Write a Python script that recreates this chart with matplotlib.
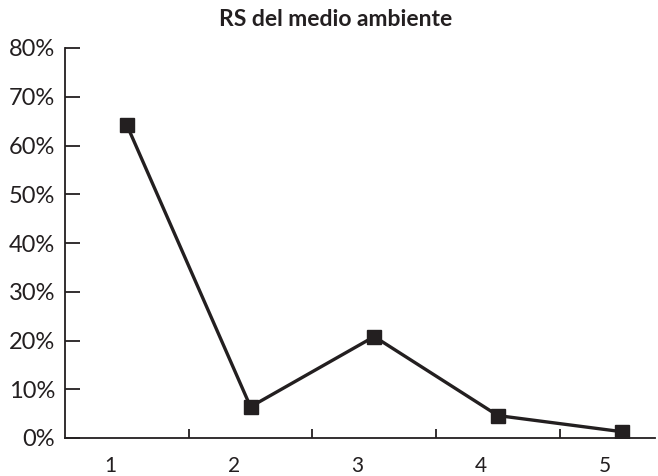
import matplotlib
matplotlib.use("Agg")
import matplotlib.pyplot as plt
from matplotlib.ticker import FixedLocator
import matplotlib.transforms as mtransforms

categories = ["1", "2", "3", "4", "5"]
values = [64.2, 6.4, 20.8, 4.6, 1.3]
yticks = [0, 10, 20, 30, 40, 50, 60, 70, 80]
ytick_labels = ["0%", "10%", "20%", "30%", "40%", "50%", "60%", "70%", "80%"]
title = "RS del medio ambiente"

plt.rcParams['font.family'] = ['Lato', 'DejaVu Sans']
col = "#231f20"

fig = plt.figure(figsize=(6.58, 4.76), dpi=100)
ax = fig.add_axes([65/658, 38/476, 590/658, 390/476])

x = list(range(1, len(categories) + 1))
ax.plot(x, values, color=col, lw=2.4, marker="s", markersize=9.5, solid_joinstyle="miter")

ax.set_xlim(0.5, 5.27)
ax.set_ylim(0, 80)
for s in ["top", "right"]:
    ax.spines[s].set_visible(False)
for s in ["left", "bottom"]:
    ax.spines[s].set_color(col)
    ax.spines[s].set_linewidth(1.3)

ax.set_yticks(yticks)
ax.set_yticklabels(ytick_labels, fontsize=17, color=col)
ax.tick_params(axis="y", direction="in", length=11, width=1.3, color=col, pad=7)

ax.xaxis.set_major_locator(FixedLocator([i + 0.5 for i in x[:-1]]))
ax.set_xticklabels([])
ax.tick_params(axis="x", direction="in", length=6.5, width=1.3, color=col)

trans = mtransforms.blended_transform_factory(ax.transData, ax.transAxes)
for xi, lab in zip(x, categories):
    ax.text(xi - 0.135, -0.045, lab, transform=trans, ha="center", va="top",
            fontsize=15, color=col)

fig.text(336/658, 1 - 19/476, title, ha="center", va="center", fontsize=16.5,
         fontweight="bold", color=col)

fig.savefig("out.png", dpi=100)
